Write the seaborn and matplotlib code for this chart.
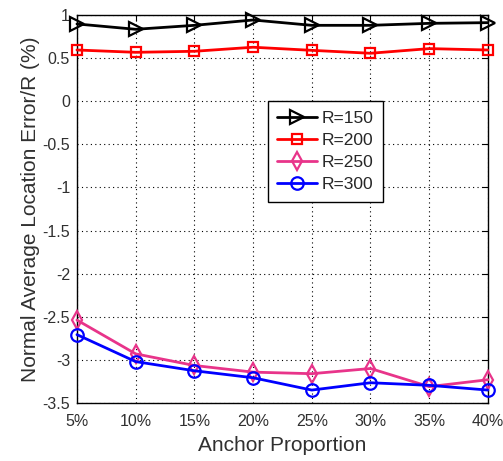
import matplotlib
matplotlib.use("Agg")
import matplotlib.pyplot as plt
import seaborn as sns
import pandas as pd

# Anchor proportions (%) on the x axis
anchor_pct = [5, 10, 15, 20, 25, 30, 35, 40]
x_labels = ["5%", "10%", "15%", "20%", "25%", "30%", "35%", "40%"]

# Normal average location error / R (%) per communication range
r150 = [0.896, 0.834, 0.880, 0.942, 0.880, 0.880, 0.903, 0.911]
r200 = [0.594, 0.567, 0.579, 0.626, 0.590, 0.556, 0.610, 0.594]
r250 = [-2.538, -2.930, -3.065, -3.142, -3.160, -3.100, -3.310, -3.230]
r300 = [-2.707, -3.020, -3.126, -3.207, -3.350, -3.265, -3.295, -3.350]

series_names = ["R=150", "R=200", "R=250", "R=300"]
series_values = [r150, r200, r250, r300]

y_ticks = [-3.5, -3, -2.5, -2, -1.5, -1, -0.5, 0, 0.5, 1]
y_labels = ["-3.5", "-3", "-2.5", "-2", "-1.5", "-1", "-0.5", "0", "0.5", "1"]

colors = ["#000000", "#ff0000", "#e8348a", "#0000ff"]
markers = [">", "s", "d", "o"]
msizes = [10, 7, 9, 9]

rows = []
for name, vals in zip(series_names, series_values):
    for x, v in zip(anchor_pct, vals):
        rows.append({"anchor": x, "err": v, "range": name})
df = pd.DataFrame(rows)

sns.set_style("white")
plt.rcParams["font.family"] = ["Liberation Sans", "DejaVu Sans"]
plt.rcParams["axes.unicode_minus"] = False

fig = plt.figure(figsize=(5.03, 4.61), dpi=100)
ax = fig.add_axes([0.153, 0.1258, 0.817, 0.8417])

for name, c, m, ms in zip(series_names, colors, markers, msizes):
    sns.lineplot(data=df[df["range"] == name], x="anchor", y="err", ax=ax,
                 color=c, marker=m, markersize=ms, markerfacecolor="none",
                 markeredgecolor=c, markeredgewidth=1.6, linewidth=2.0,
                 label=name, clip_on=False, zorder=3)

ax.set_xlim(5, 40)
ax.set_ylim(-3.5, 1)
ax.set_xticks(anchor_pct)
ax.set_xticklabels(x_labels)
ax.set_yticks(y_ticks)
ax.set_yticklabels(y_labels)

ax.grid(True, color="black", linestyle=(0, (1, 3)), linewidth=0.8)
for s in ax.spines.values():
    s.set_visible(True)
    s.set_color("black")
    s.set_linewidth(1.0)
ax.tick_params(direction="in", length=4, top=True, right=True,
               labelsize=11.5, labelcolor="#303030", color="black")
ax.tick_params(axis="x", pad=8)
ax.tick_params(axis="y", pad=5)

ax.set_xlabel("Anchor Proportion", fontsize=15, color="#303030", labelpad=5)
ax.set_ylabel("Normal Average Location Error/R (%)", fontsize=15,
              color="#303030", labelpad=2)

leg = ax.legend(loc="upper left", bbox_to_anchor=(0.443, 0.8), fontsize=12.5,
                frameon=True, fancybox=False, edgecolor="black",
                handlelength=2.3, labelspacing=0.4, borderpad=0.55,
                handletextpad=0.25)
leg.get_frame().set_linewidth(1.0)
leg.get_frame().set_alpha(1)

fig.savefig("out.png", dpi=100)
